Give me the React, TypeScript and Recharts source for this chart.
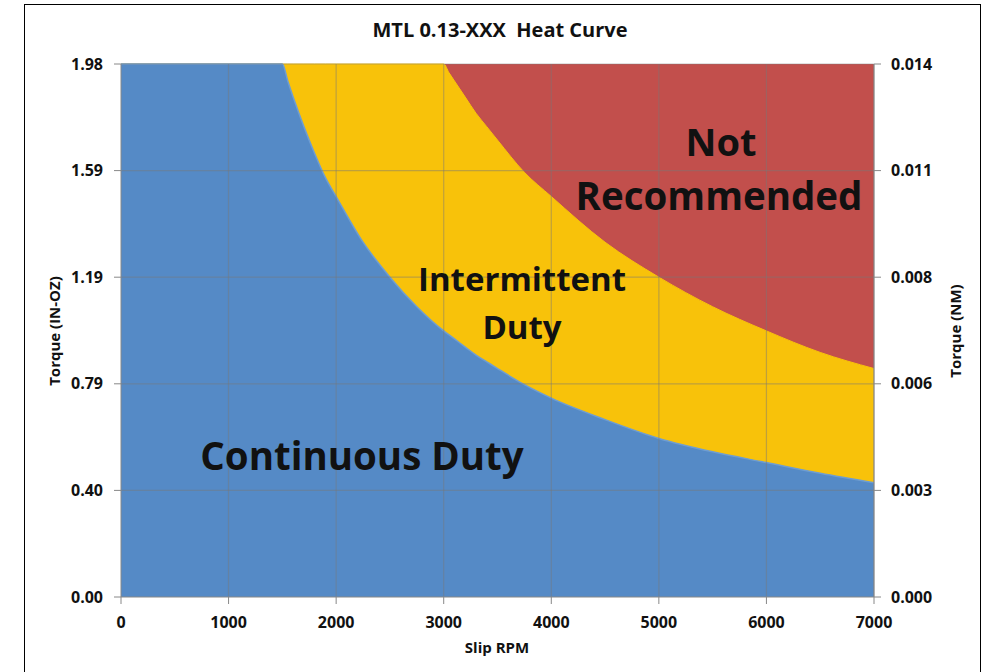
import { Area, ComposedChart, ReferenceLine, XAxis, YAxis } from "recharts";

const Y_MAX = 1.983;
const NM_MAX = 0.014;

const rpm = [0, 500, 1000, 1500, 1550, 1600, 1700, 1800, 1900, 2000, 2250, 2500, 2750, 3000, 3050, 3100, 3200, 3300, 3400, 3500, 3750, 4000, 4500, 5000, 5500, 6000, 6500, 7000];
const continuous = [1.983, 1.983, 1.983, 1.983, 1.92, 1.86, 1.75, 1.65, 1.56, 1.49, 1.32, 1.19, 1.08, 0.99, 0.975, 0.96, 0.93, 0.9, 0.875, 0.85, 0.79, 0.74, 0.66, 0.59, 0.54, 0.5, 0.46, 0.425];
const intermittent = [1.983, 1.983, 1.983, 1.983, 1.983, 1.983, 1.983, 1.983, 1.983, 1.983, 1.983, 1.983, 1.983, 1.983, 1.95, 1.92, 1.86, 1.8, 1.75, 1.7, 1.58, 1.49, 1.32, 1.19, 1.08, 0.99, 0.91, 0.85];
// torque in NM, plotted on the right axis
const notRecommended = [0.014, 0.014, 0.014, 0.014, 0.014, 0.014, 0.014, 0.014, 0.014, 0.014, 0.014, 0.014, 0.014, 0.014, 0.014, 0.014, 0.014, 0.014, 0.014, 0.014, 0.014, 0.014, 0.014, 0.014, 0.014, 0.014, 0.014, 0.014];

const xTicks = [0, 1000, 2000, 3000, 4000, 5000, 6000, 7000];
const leftTickLabels = ["0.00", "0.40", "0.79", "1.19", "1.59", "1.98"];
const rightTickLabels = ["0.000", "0.003", "0.006", "0.008", "0.011", "0.014"];

const leftTicks = leftTickLabels.map((_, i) => (i * Y_MAX) / 5);
const rightTicks = rightTickLabels.map((_, i) => (i * NM_MAX) / 5);

const rows = rpm.map((r, i) => ({
  rpm: r,
  cont: continuous[i],
  inter: intermittent[i],
  notrec: notRecommended[i],
}));

const FONT = "'Open Sans', sans-serif";
const GRID = "rgba(120,120,120,0.45)";
const tickStyle = { fontSize: 16, fontWeight: 700, fill: "#111", fontFamily: FONT };

export default function App() {
  return (
    <div style={{ position: "fixed", left: 0, top: 0, width: 983, height: 672, background: "#fff" }}>
      <div
        style={{
          position: "absolute",
          left: 24,
          top: 4,
          width: 955,
          height: 680,
          border: "1.5px solid #000",
        }}
      />
      <ComposedChart
        width={983}
        height={672}
        data={rows}
        margin={{ top: 64, right: 39, bottom: 25, left: 51 }}
      >
        <XAxis
          dataKey="rpm"
          type="number"
          domain={[0, 7000]}
          ticks={xTicks}
          tick={tickStyle}
          tickSize={7}
          tickMargin={13}
          stroke="#888"
          height={50}
        />
        <YAxis
          yAxisId="left"
          type="number"
          domain={[0, Y_MAX]}
          ticks={leftTicks}
          tickFormatter={(_v: number, i: number) => leftTickLabels[i]}
          tick={tickStyle}
          tickSize={7}
          tickMargin={11}
          stroke="#888"
          width={70}
        />
        <YAxis
          yAxisId="right"
          orientation="right"
          type="number"
          domain={[0, NM_MAX]}
          ticks={rightTicks}
          tickFormatter={(_v: number, i: number) => rightTickLabels[i]}
          tick={tickStyle}
          tickSize={7}
          tickMargin={10}
          stroke="#888"
          width={70}
        />
        <Area
          yAxisId="right"
          dataKey="notrec"
          type="linear"
          fill="#c24f4c"
          fillOpacity={1}
          stroke="none"
          isAnimationActive={false}
        />
        <Area
          yAxisId="left"
          dataKey="inter"
          type="monotone"
          fill="#f8c20a"
          fillOpacity={1}
          stroke="#f8c20a"
          isAnimationActive={false}
        />
        <Area
          yAxisId="left"
          dataKey="cont"
          type="monotone"
          fill="#558ac6"
          fillOpacity={1}
          stroke="#6e9dd2"
          strokeWidth={1.5}
          isAnimationActive={false}
        />
        {xTicks.slice(1).map((x) => (
          <ReferenceLine key={"x" + x} yAxisId="left" x={x} stroke={GRID} strokeWidth={1.2} />
        ))}
        {leftTicks.slice(1).map((y) => (
          <ReferenceLine key={"y" + y} yAxisId="left" y={y} stroke={GRID} strokeWidth={1.2} />
        ))}
      </ComposedChart>
      <svg
        width={983}
        height={672}
        style={{ position: "absolute", left: 0, top: 0, pointerEvents: "none" }}
        fontFamily={FONT}
        fontWeight={700}
      >
        <text x={500} y={37} textAnchor="middle" fontSize={20} fill="#111" style={{ whiteSpace: "pre" }}>
          {"MTL 0.13-XXX  Heat Curve"}
        </text>
        <text x={497} y={653} textAnchor="middle" fontSize={15} fill="#111">
          Slip RPM
        </text>
        <text x={60} y={331} textAnchor="middle" fontSize={15} fill="#111" transform="rotate(-90 60 331)">
          Torque (IN-OZ)
        </text>
        <text x={961} y={331} textAnchor="middle" fontSize={15} fill="#111" transform="rotate(-90 961 331)">
          Torque (NM)
        </text>
        <text x={721} y={156} textAnchor="middle" fontSize={38} fill="#111">
          Not
        </text>
        <text x={719} y={210} textAnchor="middle" fontSize={38.5} fill="#111">
          Recommended
        </text>
        <text x={522} y={291} textAnchor="middle" fontSize={33} fill="#111">
          Intermittent
        </text>
        <text x={522} y={339} textAnchor="middle" fontSize={33} fill="#111">
          Duty
        </text>
        <text x={362} y={470} textAnchor="middle" fontSize={38.5} fill="#111">
          Continuous Duty
        </text>
      </svg>
    </div>
  );
}
